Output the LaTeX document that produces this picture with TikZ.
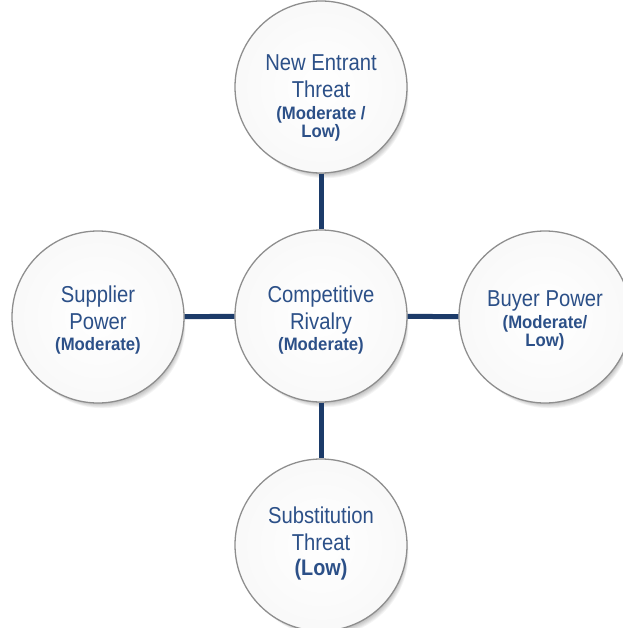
\documentclass[tikz,border=0pt]{standalone}
\usepackage{fontspec}
\setmainfont{Liberation Sans}[FakeStretch=0.88]
\newfontfamily\subfam{Liberation Sans Bold}[FakeStretch=0.93]
\newcommand{\subf}{\subfam\fontsize{18}{17}\selectfont}
\newcommand{\subbig}{\bfseries\fontsize{22.5}{24}\selectfont}
\begin{document}
\definecolor{navy}{HTML}{1C3B69}
\definecolor{inktext}{HTML}{2C5088}
\definecolor{ringgray}{HTML}{8E8E8E}
\begin{tikzpicture}[x=1pt,y=-1pt,
  force/.style={circle,minimum size=172pt,inner sep=0pt,draw=ringgray,line width=1.3pt,
    inner color=white,outer color=gray!5},
  link/.style={draw=navy,line width=5pt},
  txt/.style={align=center,text=inktext,inner sep=0pt,font=\fontsize{23}{27}\selectfont},
]
\useasboundingbox (0,0) rectangle (622,628);
\fill[white] (0,0) rectangle (622,628);

% soft shadows below the circles
\foreach \cx/\cy in {321/87,321/316,98/317,545/317,321/545}{
  \foreach \k in {1,...,8}{
    \fill[black,opacity=0.045] (\cx+0.5+0.5*\k,\cy+1+0.9*\k) circle (83pt);
  }
}

\node[force] (top) at (321,87) {};
\node[force] (mid) at (321,316) {};
\node[force] (lft) at (98,317) {};
\node[force] (rgt) at (545,317) {};
\node[force] (bot) at (321,545) {};

\draw[link] (top) -- (mid);
\draw[link] (lft) -- (mid);
\draw[link] (mid) -- (rgt);
\draw[link] (mid) -- (bot);

\node[txt] (toptext) at (321,98) {New Entrant\\Threat\\[-5pt]
  \subf (Moderate /\\[-9pt]\subf Low)};
\node[txt] (midtext) at (321,320) {Competitive\\Rivalry\\[-6pt]
  \subf (Moderate)};
\node[txt] (lfttext) at (98,320) {Supplier\\Power\\[-6pt]
  \subf (Moderate)};
\node[txt] (rgttext) at (545,320) {Buyer Power\\[-5pt]
  \subf (Moderate/\\[-9pt]\subf Low)};
\node[txt] (bottext) at (321,543) {Substitution\\Threat\\[-2pt]
  \subbig (Low)};
\end{tikzpicture}
\end{document}
